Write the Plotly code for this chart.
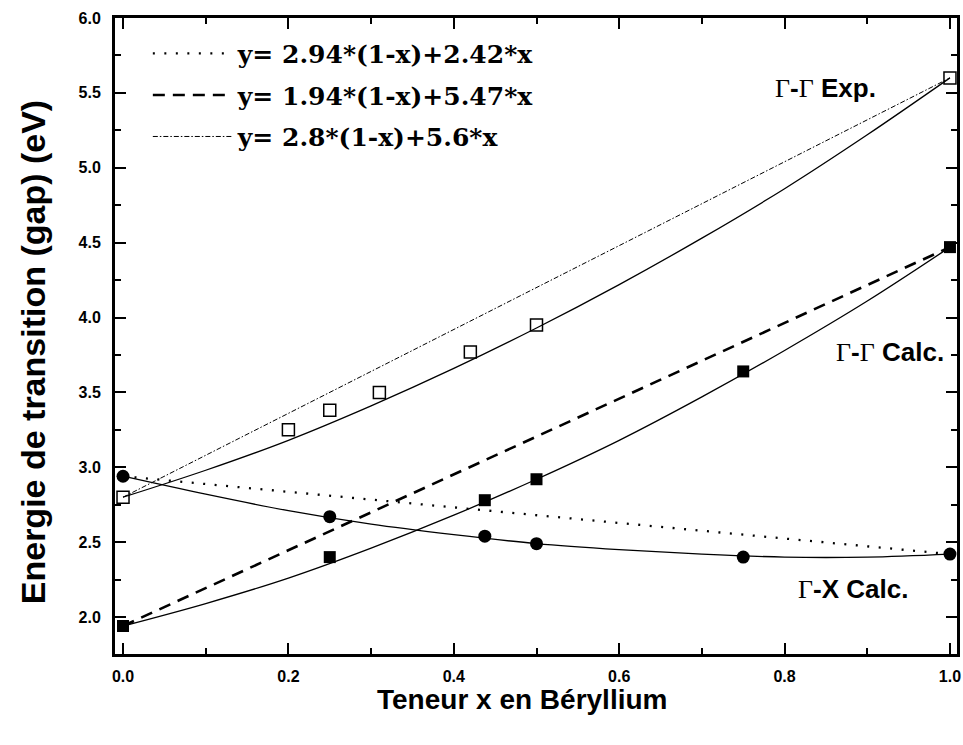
import plotly.graph_objects as go

# Experimental Γ-Γ (open squares)
exp_x = [0.0, 0.2, 0.25, 0.31, 0.42, 0.5, 1.0]
exp_y = [2.80, 3.25, 3.38, 3.50, 3.77, 3.95, 5.60]

# Calculated Γ-Γ (filled squares)
gg_x = [0.0, 0.25, 0.4375, 0.5, 0.75, 1.0]
gg_y = [1.94, 2.40, 2.78, 2.92, 3.64, 4.47]

# Calculated Γ-X (filled circles)
gx_x = [0.0, 0.25, 0.4375, 0.5, 0.75, 1.0]
gx_y = [2.94, 2.67, 2.54, 2.49, 2.40, 2.42]

# Solid fitted curves
fit_x = [0.0, 0.1, 0.2, 0.3, 0.4, 0.5, 0.6, 0.7, 0.8, 0.9, 1.0]
fit_exp_y = [2.80, 2.98, 3.18, 3.41, 3.66, 3.93, 4.22, 4.53, 4.86, 5.22, 5.60]
fit_gg_y = [1.94, 2.09, 2.26, 2.46, 2.68, 2.92, 3.18, 3.47, 3.78, 4.11, 4.47]
fit_gx_y = [2.94, 2.82, 2.71, 2.62, 2.55, 2.49, 2.45, 2.42, 2.40, 2.40, 2.42]

# Straight lines (as drawn in the picture) and their legend texts
lin_x = [0.0, 1.0]
lin1_y = [2.94, 2.42]
lin2_y = [1.94, 4.47]
lin3_y = [2.80, 5.60]
lin_names = ["y= 2.94*(1-x)+2.42*x", "y= 1.94*(1-x)+5.47*x", "y= 2.8*(1-x)+5.6*x"]

# Axis settings
x_range = [-0.0097, 1.0085]
y_range = [1.753, 6.0]
x_title = "Teneur x en Béryllium"
y_title = "Energie de transition (gap) (eV)"

fig = go.Figure()

for fy in (fit_exp_y, fit_gg_y, fit_gx_y):
    fig.add_trace(go.Scatter(x=fit_x, y=fy, mode="lines",
                             line=dict(color="black", width=1.3, shape="spline"),
                             showlegend=False, hoverinfo="skip"))

fig.add_trace(go.Scatter(x=lin_x, y=lin1_y, mode="lines", name=lin_names[0], legendgroup="a",
                         line=dict(color="black", width=2.3, dash="2px,9.5px")))
fig.add_trace(go.Scatter(x=lin_x, y=lin2_y, mode="lines", name=lin_names[1], legendgroup="b",
                         line=dict(color="black", width=2.6, dash="12px,8px")))
fig.add_trace(go.Scatter(x=lin_x, y=lin3_y, mode="lines", name=lin_names[2], legendgroup="c",
                         line=dict(color="black", width=1, dash="5px,2px,1.5px,2px")))

fig.add_trace(go.Scatter(x=exp_x, y=exp_y, mode="markers", showlegend=False,
                         marker=dict(symbol="square-open", size=12, color="black", line=dict(width=1.5))))
fig.add_trace(go.Scatter(x=gg_x, y=gg_y, mode="markers", showlegend=False,
                         marker=dict(symbol="square", size=12, color="black")))
fig.add_trace(go.Scatter(x=gx_x, y=gx_y, mode="markers", showlegend=False,
                         marker=dict(symbol="circle", size=13, color="black")))

serif = "'DejaVu Serif', 'Liberation Serif', serif"
sans = "'Liberation Sans', Arial, sans-serif"
G = "<span style=\"font-family:'Liberation Serif';font-weight:normal\">Γ</span>"

labels = [
    (0.913, 5.53, G + "-" + G + " Exp."),
    (0.995, 3.77, G + "-" + G + " Calc."),
    (0.952, 2.19, G + "-X Calc."),
]
for lx, ly, lt in labels:
    fig.add_annotation(x=lx, y=ly, text=lt, showarrow=False, xanchor="right", yanchor="middle",
                       font=dict(family=sans, size=26, color="black", weight="bold"))

# axis titles
fig.add_annotation(xref="paper", yref="paper", x=0.483, y=-0.071, text=x_title, showarrow=False,
                   xanchor="center", yanchor="middle",
                   font=dict(family=sans, size=28, color="black", weight="bold"))
fig.add_annotation(xref="paper", yref="paper", x=-0.097, y=0.475, text=y_title, showarrow=False,
                   textangle=-90, xanchor="center", yanchor="middle",
                   font=dict(family=sans, size=34, color="black", weight="bold"))

axis_common = dict(showline=True, linecolor="black", linewidth=3, mirror="ticks", ticks="inside",
                   tickcolor="black", tickwidth=2, ticklen=11, showgrid=False, zeroline=False,
                   automargin=False,
                   tickfont=dict(family=sans, size=16, color="black", weight="bold"))

fig.update_xaxes(range=x_range, tick0=0, dtick=0.2, tickformat=".1f", ticklabelstandoff=6,
                 minor=dict(ticks="inside", dtick=0.1, ticklen=6, tickwidth=2, tickcolor="black"),
                 **axis_common)
fig.update_yaxes(range=y_range, tick0=2.0, dtick=0.5, tickformat=".1f", ticklabelstandoff=8,
                 minor=dict(ticks="inside", dtick=0.25, ticklen=6, tickwidth=2, tickcolor="black"),
                 **axis_common)

fig.update_layout(
    width=963, height=745,
    margin=dict(l=115, r=6, t=18, b=91),
    plot_bgcolor="white", paper_bgcolor="white",
    legend=dict(x=0.039, y=0.98, xanchor="left", yanchor="top", bgcolor="rgba(0,0,0,0)",
                font=dict(family=serif, size=25, color="black", weight="bold"),
                itemwidth=80, tracegroupgap=6, traceorder="grouped"),
)

fig.write_html("out.html", config={"displayModeBar": False},
               post_script="document.body.style.margin='0px';")
